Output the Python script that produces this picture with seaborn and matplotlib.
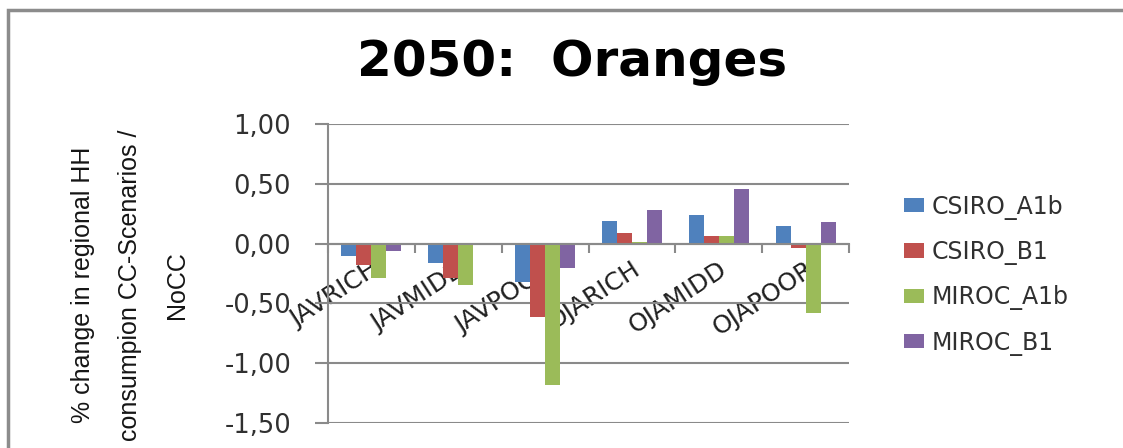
import numpy as np
import pandas as pd
import matplotlib
matplotlib.use("Agg")
import matplotlib.pyplot as plt
import seaborn as sns
from matplotlib.ticker import FixedLocator, FuncFormatter
from matplotlib.patches import Rectangle
import matplotlib.transforms as mtransforms

categories = ["JAVRICH", "JAVMIDD", "JAVPOOR", "OJARICH", "OJAMIDD", "OJAPOOR"]
series = ["CSIRO_A1b", "CSIRO_B1", "MIROC_A1b", "MIROC_B1"]
csiro_a1b = [-0.10, -0.16, -0.32, 0.19, 0.24, 0.15]
csiro_b1 = [-0.18, -0.29, -0.61, 0.09, 0.06, -0.04]
miroc_a1b = [-0.29, -0.35, -1.18, 0.015, 0.06, -0.58]
miroc_b1 = [-0.06, -0.01, -0.20, 0.28, 0.46, 0.18]
yticks = [-1.5, -1.0, -0.5, 0.0, 0.5, 1.0]
title = "2050:  Oranges"
ylabel = "% change in regional HH\nconsumpion CC-Scenarios /\nNoCC"
colors = ["#4F81BD", "#C0504D", "#9BBB59", "#8064A2"]

sns.set_theme(style="white")
plt.rcParams['font.family'] = ['DejaVu Sans']

values = [csiro_a1b, csiro_b1, miroc_a1b, miroc_b1]
rows = []
for s, vals in zip(series, values):
    for c, v in zip(categories, vals):
        rows.append({"region": c, "scenario": s, "value": v})
df = pd.DataFrame(rows)

W, H = 1123, 448
fig = plt.figure(figsize=(W / 100, H / 100), dpi=100)
fig.patch.set_facecolor("white")
ax = fig.add_axes([328 / W, 1 - 423 / H, 521 / W, 299 / H])

sns.barplot(data=df, x="region", y="value", hue="scenario", order=categories,
            hue_order=series, palette=colors, width=0.69, saturation=1,
            errorbar=None, linewidth=0, ax=ax)

ax.set_xlim(-0.5, 5.5)
ax.set_ylim(-1.5, 1.0)
grid_c = "#8a8a8a"
ax.yaxis.set_major_locator(FixedLocator(yticks))
ax.yaxis.set_major_formatter(FuncFormatter(lambda v, p: f"{v:.2f}".replace(".", ",")))
ax.grid(axis="y", color=grid_c, linewidth=1.5)
ax.set_axisbelow(True)
for s in ["top", "right"]:
    ax.spines[s].set_visible(False)
ax.spines["left"].set_color(grid_c)
ax.spines["left"].set_linewidth(1.5)
ax.spines["bottom"].set_position(("data", 0))
ax.spines["bottom"].set_color(grid_c)
ax.spines["bottom"].set_linewidth(1.5)

ax.tick_params(axis="y", which="major", length=9.5, width=1.5, color=grid_c,
               direction="out", left=True, pad=17, labelsize=18.5, labelcolor="#303030")
ax.tick_params(axis="x", which="major", length=0, pad=17, labelsize=18,
               labelcolor="#202020")
ax.xaxis.set_minor_locator(FixedLocator(np.arange(-0.5, 6.0, 1.0)))
ax.tick_params(axis="x", which="minor", length=6.5, width=1.5, color=grid_c,
               direction="out", bottom=True)
offset = mtransforms.ScaledTranslation(6 / 100, 0, fig.dpi_scale_trans)
for lab in ax.get_xticklabels():
    lab.set_rotation(33)
    lab.set_ha("right")
    lab.set_va("center")
    lab.set_rotation_mode("anchor")
    lab.set_transform(lab.get_transform() + offset)
ax.set_xlabel("")
ax.set_ylabel("")

fig.text(130 / W, 1 - 285 / H, ylabel, rotation=90, ha="center", va="center",
         multialignment="center", fontsize=18,
         family=["Liberation Sans", "DejaVu Sans"], linespacing=2.2, color="#151515")

handles, labels = ax.get_legend_handles_labels()
if ax.get_legend() is not None:
    ax.get_legend().remove()
fig.legend(handles, labels, loc="center left", bbox_to_anchor=(0.805, 0.386),
           frameon=False, fontsize=17, handlelength=0.85, handleheight=0.55,
           labelspacing=0.86, handletextpad=0.3, borderpad=0, borderaxespad=0,
           labelcolor="#303030")

fig.text(572 / W, 1 - 62 / H, title, ha="center", va="center", fontsize=36,
         fontweight="bold", color="black")

fig.patches.append(Rectangle((8 / W, -0.2), 1.2, 1 - 10 / H + 0.2,
                             transform=fig.transFigure, fill=False,
                             edgecolor="#8c8c8c", linewidth=2.5))

fig.savefig("out.png", dpi=100)
